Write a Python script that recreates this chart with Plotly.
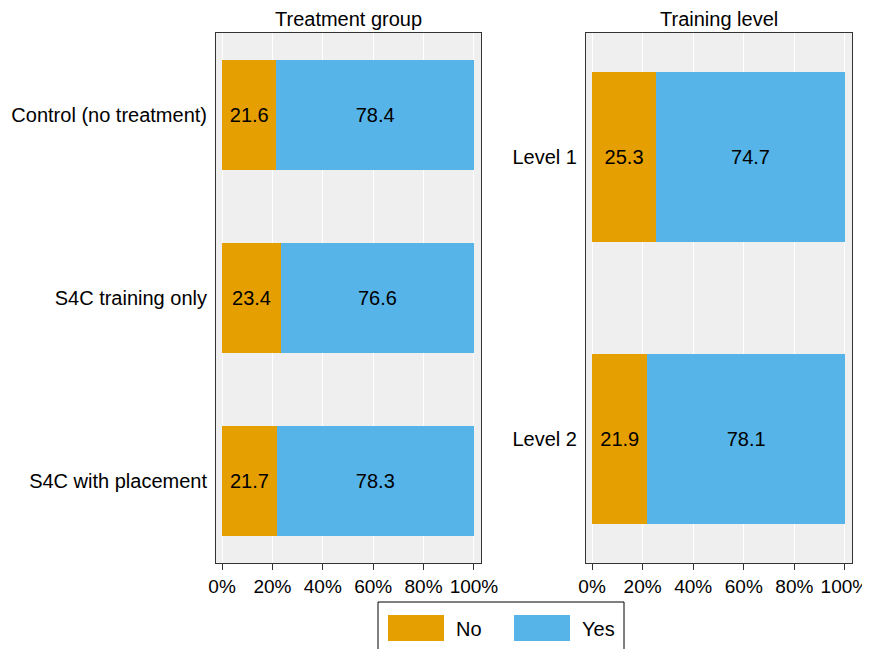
import plotly.graph_objects as go

groups = ["Control (no treatment)", "S4C training only", "S4C with placement"]
group_no = [21.6, 23.4, 21.7]
group_yes = [78.4, 76.6, 78.3]

levels = ["Level 1", "Level 2"]
level_no = [25.3, 21.9]
level_yes = [74.7, 78.1]

series_names = ["No", "Yes"]
colors = ["#E69F00", "#56B4E9"]
tick_vals = [0, 20, 40, 60, 80, 100]
tick_text = ["0%", "20%", "40%", "60%", "80%", "100%"]
titles = ["Treatment group", "Training level"]

FONT = "Liberation Sans, Arial, sans-serif"
OFF = 8  # page body margin
W, H = 870 - OFF, 649 - OFF
FS = 20
FS_TICK = 19

fig = go.Figure()

def add_bars(cats, no_vals, yes_vals, xa, ya, width):
    for name, vals, col in zip(series_names, [no_vals, yes_vals], colors):
        fig.add_trace(go.Bar(
            y=cats, x=vals, name=name, orientation="h",
            marker=dict(color=col, line=dict(width=0)),
            width=width,
            text=[f"{v:.1f}" for v in vals],
            textposition="inside", insidetextanchor="middle",
            textfont=dict(color="black", size=FS, family=FONT),
            xaxis=xa, yaxis=ya, showlegend=False,
            hoverinfo="x+y",
        ))

add_bars(groups, group_no, group_yes, "x", "y", 0.6)
add_bars(levels, level_no, level_yes, "x2", "y2", 0.6)

def px_x(p):
    return (p - OFF) / W

def px_y(p):
    return 1 - (p - OFF) / H

xcommon = dict(
    range=[-2.4, 102.8], tickvals=tick_vals, ticktext=tick_text,
    showgrid=True, gridcolor="white", gridwidth=1,
    ticks="outside", ticklen=6, tickcolor="#333", tickwidth=1,
    showline=True, linecolor="#333", linewidth=1, mirror=True,
    zeroline=False, tickfont=dict(size=FS_TICK, color="black", family=FONT),
    fixedrange=True, automargin=False, ticklabeloverflow="allow",
)
ycommon = dict(
    showgrid=False, ticks="", showline=True, linecolor="#333", linewidth=1,
    mirror=True, zeroline=False, ticklabelstandoff=4,
    tickfont=dict(size=FS, color="black", family=FONT),
    autorange=False, fixedrange=True, automargin=False,
)

fig.update_layout(
    width=W, height=H,
    margin=dict(l=0, r=0, t=0, b=0),
    paper_bgcolor="white", plot_bgcolor="#EFEFEF",
    barmode="stack",
    font=dict(family=FONT, color="black"),
    xaxis=dict(domain=[px_x(216), px_x(481)], anchor="y", **xcommon),
    yaxis=dict(domain=[px_y(563), px_y(33)], anchor="x",
               range=[2.45, -0.45], **ycommon),
    xaxis2=dict(domain=[px_x(586), px_x(852)], anchor="y2", **xcommon),
    yaxis2=dict(domain=[px_y(563), px_y(33)], anchor="x2",
                range=[1.44, -0.44], **ycommon),
    showlegend=False,
)

# subplot titles
for t, cx in zip(titles, [(216 + 481) / 2, (586 + 852) / 2]):
    fig.add_annotation(text=t, x=px_x(cx), y=px_y(19), xref="paper", yref="paper",
                       showarrow=False, font=dict(size=FS, color="black", family=FONT),
                       xanchor="center", yanchor="middle")

# custom legend box
fig.add_shape(type="rect", xref="paper", yref="paper",
              x0=px_x(378), x1=px_x(624), y0=px_y(660), y1=px_y(602),
              line=dict(color="black", width=1), fillcolor="white")
swatch_x = [388, 514]
for name, col, sx in zip(series_names, colors, swatch_x):
    fig.add_shape(type="rect", xref="paper", yref="paper",
                  x0=px_x(sx), x1=px_x(sx + 56), y0=px_y(641), y1=px_y(615),
                  line=dict(width=0), fillcolor=col)
    fig.add_annotation(text=name, x=px_x(sx + 66), y=px_y(629), xref="paper", yref="paper",
                       showarrow=False, xanchor="left", yanchor="middle",
                       font=dict(size=FS, color="black", family=FONT))

fig.write_html("out.html")
